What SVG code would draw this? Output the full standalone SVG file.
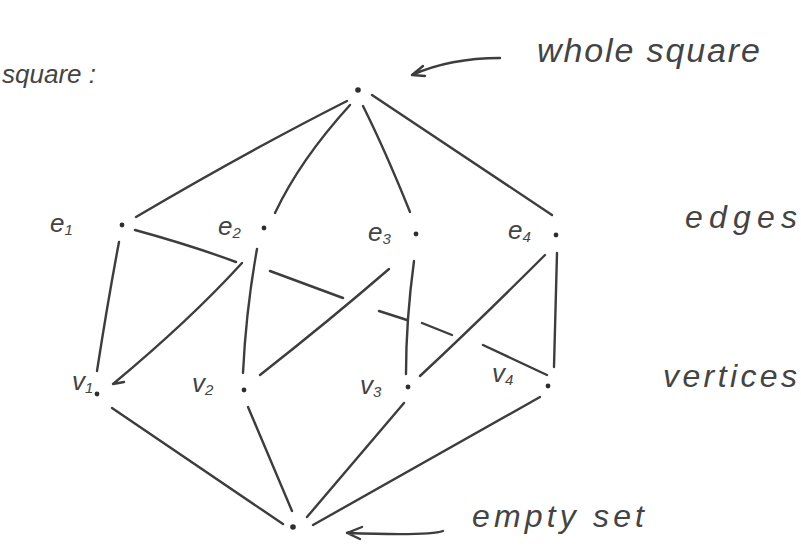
<svg xmlns="http://www.w3.org/2000/svg" width="801" height="550" viewBox="0 0 801 550">
<defs>
<style>
.ln{fill:none;stroke:#3d3d3d;stroke-width:2.4;stroke-linecap:round;stroke-linejoin:round}
.dot{fill:#2e2e2e}
.hw{font-family:"Liberation Sans",Arial,sans-serif;font-style:italic;fill:#444}
.lab{font-family:"Liberation Sans",Arial,sans-serif;font-style:italic;fill:#444;font-size:26px}
.sub{font-size:15px}
</style>
</defs>
<rect width="801" height="550" fill="#ffffff"/>

<g id="connectors">
<path class="ln" d="M347,101 Q250,150 136,217"/>
<path class="ln" d="M350,105 Q300,160 275,213"/>
<path class="ln" d="M363,106 Q385,150 410,212"/>
<path class="ln" d="M372,95 L552,215"/>
<path class="ln" d="M119,242 Q108,300 97,371"/>
<path class="ln" d="M135,230 Q190,245 236,262 M270,271 L343,298 M379,311 L407,320 M422,323 L452,335 M483,345 L547,375"/>
<path class="ln" d="M242,263 Q190,320 113,384 L124,382"/>
<path class="ln" d="M257,249 Q246,310 243,373"/>
<path class="ln" d="M389,269 Q330,320 260,375"/>
<path class="ln" d="M414,261 Q406,320 406,374"/>
<path class="ln" d="M545,255 Q480,320 420,376"/>
<path class="ln" d="M557,253 L554,367"/>
<path class="ln" d="M112,408 L283,524"/>
<path class="ln" d="M248,407 L292,511"/>
<path class="ln" d="M404,403 L307,517"/>
<path class="ln" d="M540,397 L313,525"/>
<path class="ln" d="M500,58 Q450,58 412,75 M412,75 L423,66 M412,75 L425,76"/>
<path class="ln" d="M443,531 Q430,536 347,533 M347,533 L362,527 M347,533 L360,539"/>
</g>

<g id="top"><circle class="dot" cx="358" cy="90" r="2.8"/></g>
<g id="e1"><circle class="dot" cx="122" cy="225" r="2.4"/><text class="lab" x="50" y="232">e<tspan class="sub" dy="3">1</tspan></text></g>
<g id="e2"><circle class="dot" cx="264" cy="228" r="2.4"/><text class="lab" x="218" y="235">e<tspan class="sub" dy="3">2</tspan></text></g>
<g id="e3"><circle class="dot" cx="416" cy="234" r="2.4"/><text class="lab" x="368" y="241">e<tspan class="sub" dy="3">3</tspan></text></g>
<g id="e4"><circle class="dot" cx="556" cy="235" r="2.4"/><text class="lab" x="508" y="239">e<tspan class="sub" dy="3">4</tspan></text></g>
<g id="v1"><circle class="dot" cx="97" cy="394" r="2.4"/><text class="lab" x="72" y="390">v<tspan class="sub" dy="3">1</tspan></text></g>
<g id="v2"><circle class="dot" cx="244" cy="390" r="2.4"/><text class="lab" x="192" y="392">v<tspan class="sub" dy="3">2</tspan></text></g>
<g id="v3"><circle class="dot" cx="408" cy="387" r="2.4"/><text class="lab" x="360" y="394">v<tspan class="sub" dy="3">3</tspan></text></g>
<g id="v4"><circle class="dot" cx="548" cy="386" r="2.4"/><text class="lab" x="492" y="382">v<tspan class="sub" dy="3">4</tspan></text></g>
<g id="bottom"><circle class="dot" cx="293" cy="527" r="2.8"/></g>

<text class="hw" x="2" y="83" font-size="26" textLength="94" lengthAdjust="spacingAndGlyphs">square :</text>
<text class="hw" x="537" y="62" font-size="34" textLength="223" lengthAdjust="spacing">whole square</text>
<text class="hw" x="685" y="228" font-size="32" textLength="112" lengthAdjust="spacing">edges</text>
<text class="hw" x="663" y="387" font-size="32" textLength="134" lengthAdjust="spacing">vertices</text>
<text class="hw" x="472" y="527" font-size="32" textLength="172" lengthAdjust="spacing">empty set</text>
</svg>
